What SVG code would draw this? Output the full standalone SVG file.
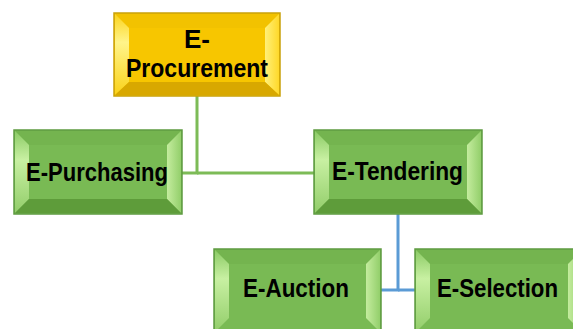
<svg xmlns="http://www.w3.org/2000/svg" width="573" height="329" viewBox="0 0 573 329">
  <style>
    .lbl { font-family: "Liberation Sans", Arial, sans-serif; font-weight: bold; font-size: 26px; fill: #000; text-anchor: middle; }
    .g-face { fill: #79BA54; stroke: #5E9A40; stroke-width: 1.5; }
    .g-top { fill: #74B44F; }
    .g-left { fill: url(#gLeft); }
    .g-right { fill: url(#gRight); }
    .g-bot { fill: #5E9C3A; }
    .y-face { fill: #F7C600; stroke: #C9A10A; stroke-width: 1.5; }
    .y-top { fill: #F2C200; }
    .y-left { fill: url(#yLeft); }
    .y-right { fill: url(#yRight); }
    .y-bot { fill: #D8A800; }
    .green-link { stroke: #7DBB57; stroke-width: 3; fill: none; }
    .blue-link { stroke: #5B9BD5; stroke-width: 3; fill: none; }
  </style>
  <defs>
    <linearGradient id="gLeft" x1="0" y1="0" x2="0" y2="1">
      <stop offset="0" stop-color="#8CCB66"/>
      <stop offset="0.35" stop-color="#C8F0A2"/>
      <stop offset="1" stop-color="#92CD6A"/>
    </linearGradient>
    <linearGradient id="gRight" x1="0" y1="0" x2="1" y2="0">
      <stop offset="0" stop-color="#C4EC9E"/>
      <stop offset="1" stop-color="#93CF6B"/>
    </linearGradient>
    <linearGradient id="yLeft" x1="0" y1="0" x2="0" y2="1">
      <stop offset="0" stop-color="#FBD41E"/>
      <stop offset="0.35" stop-color="#FFF48A"/>
      <stop offset="1" stop-color="#FAD21A"/>
    </linearGradient>
    <linearGradient id="yRight" x1="0" y1="0" x2="1" y2="0">
      <stop offset="0" stop-color="#FFF07A"/>
      <stop offset="1" stop-color="#FFD92A"/>
    </linearGradient>
  </defs>

  <!-- connectors -->
  <g id="connectors">
    <polyline class="green-link" points="197,96 197,173 182,173"/>
    <line class="green-link" x1="197" y1="173" x2="314" y2="173"/>
    <polyline class="blue-link" points="398,214 398,290 381,290"/>
    <line class="blue-link" x1="398" y1="290" x2="415" y2="290"/>
  </g>

  <!-- E-Procurement (root, yellow) -->
  <g id="node-procurement">
    <rect class="y-face" x="114" y="13" width="166" height="83"/>
    <polygon class="y-top" points="115,14 279,14 265,28 129,28"/>
    <polygon class="y-left" points="115,14 129,28 129,82 115,95"/>
    <polygon class="y-right" points="279,14 279,95 265,82 265,28"/>
    <polygon class="y-bot" points="115,95 129,82 265,82 279,95"/>
    <rect x="129" y="28" width="136" height="54" fill="#F7C600"/>
    <text class="lbl" x="197" y="48">E-</text>
    <text class="lbl" x="197" y="77" textLength="142" lengthAdjust="spacingAndGlyphs">Procurement</text>
  </g>

  <!-- E-Purchasing -->
  <g id="node-purchasing">
    <rect class="g-face" x="14" y="130" width="168" height="84"/>
    <polygon class="g-top" points="15,131 181,131 167,145 29,145"/>
    <polygon class="g-left" points="15,131 29,145 29,199 15,213"/>
    <polygon class="g-right" points="181,131 181,213 167,199 167,145"/>
    <polygon class="g-bot" points="15,213 29,199 167,199 181,213"/>
    <rect x="29" y="145" width="138" height="54" fill="#79BA54"/>
    <text class="lbl" x="97" y="181" textLength="142" lengthAdjust="spacingAndGlyphs">E-Purchasing</text>
  </g>

  <!-- E-Tendering -->
  <g id="node-tendering">
    <rect class="g-face" x="314" y="130" width="168" height="84"/>
    <polygon class="g-top" points="315,131 481,131 467,145 329,145"/>
    <polygon class="g-left" points="315,131 329,145 329,199 315,213"/>
    <polygon class="g-right" points="481,131 481,213 467,199 467,145"/>
    <polygon class="g-bot" points="315,213 329,199 467,199 481,213"/>
    <rect x="329" y="145" width="138" height="54" fill="#79BA54"/>
    <text class="lbl" x="397.5" y="180" textLength="131" lengthAdjust="spacingAndGlyphs">E-Tendering</text>
  </g>

  <!-- E-Auction -->
  <g id="node-auction">
    <rect class="g-face" x="214" y="249" width="167" height="84"/>
    <polygon class="g-top" points="215,250 380,250 366,264 229,264"/>
    <polygon class="g-left" points="215,250 229,264 229,318 215,332"/>
    <polygon class="g-right" points="380,250 380,332 366,318 366,264"/>
    <rect x="229" y="264" width="137" height="54" fill="#79BA54"/>
    <text class="lbl" x="296" y="297" textLength="106" lengthAdjust="spacingAndGlyphs">E-Auction</text>
  </g>

  <!-- E-Selection -->
  <g id="node-selection">
    <rect class="g-face" x="415" y="249" width="168" height="84"/>
    <polygon class="g-top" points="416,250 582,250 568,264 430,264"/>
    <polygon class="g-left" points="416,250 430,264 430,318 416,332"/>
    <polygon class="g-right" points="582,250 582,332 568,318 568,264"/>
    <rect x="430" y="264" width="138" height="54" fill="#79BA54"/>
    <text class="lbl" x="497.5" y="297" textLength="121" lengthAdjust="spacingAndGlyphs">E-Selection</text>
  </g>
</svg>
